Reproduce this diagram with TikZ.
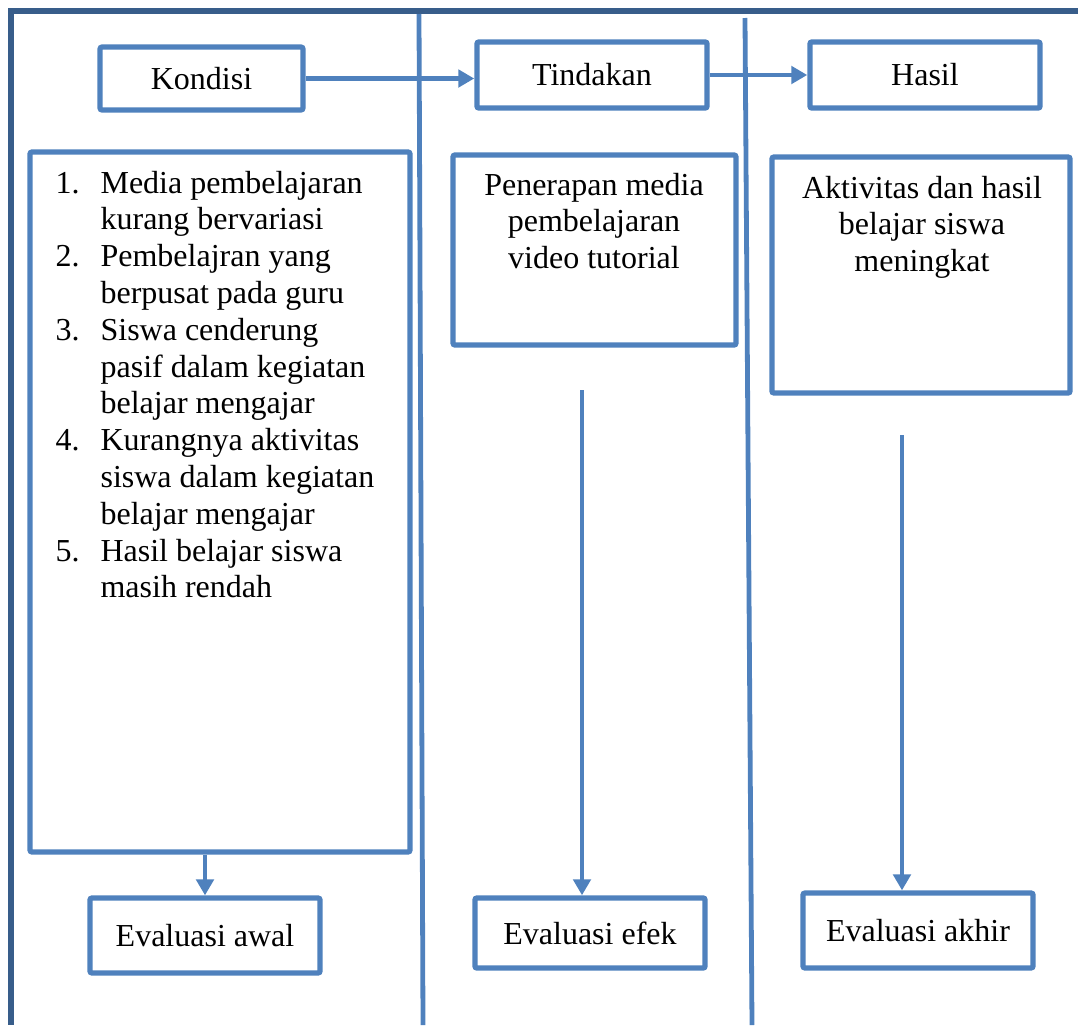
\documentclass[tikz,border=0pt]{standalone}
\usepackage{fontspec}
\setmainfont{Liberation Serif}
\usetikzlibrary{arrows.meta}
\definecolor{boxblue}{HTML}{4F81BD}
\definecolor{frameblue}{HTML}{385D8A}
\newcommand{\rows}[1]{\begin{tabular}[t]{@{}c@{}}#1\end{tabular}}

\begin{document}
\begin{tikzpicture}[x=0.375pt, y=-0.375pt,
		font=\fontsize{12}{13.8}\selectfont,
		box/.style={draw=boxblue, line width=2pt, rounded corners=0.8pt, inner sep=0pt},
		flow/.style={draw=boxblue, line width=1.8pt, -{Triangle[length=6pt,width=6.5pt]}},
		divider/.style={draw=boxblue, line width=1.8pt}]
		\useasboundingbox (0,0) rectangle (1078,1025);

		\draw [frameblue, line width=2pt] (1078,11) -- (11,11) -- (11,1025);
		\draw [divider] (419,14) -- (423,1025);
		\draw [divider] (745,18) -- (752,1025);

		\node [box, minimum width=76.1pt, minimum height=23.6pt] (kondisi) at (201.5,78.5) {Kondisi};
		\node [box, minimum width=86.3pt, minimum height=24.8pt] (tindakan) at (592,75) {Tindakan};
		\node [box, minimum width=86.3pt, minimum height=24.8pt] (hasil) at (925,75) {Hasil};

		\node [box, minimum width=142.5pt, minimum height=262.5pt] (masalah) at (220,502) {};
		\node [box, minimum width=106.1pt, minimum height=71.3pt] (media) at (594.5,250) {};
		\node [box, minimum width=111.8pt, minimum height=88.5pt] (aktivitas) at (921,275) {};

		\node [anchor=base west, inner sep=0pt] (daftar) at (55,193) {\begin{tabular}[t]{@{}p{16.9pt}@{}l@{}}
				1. & Media pembelajaran\\
				   & kurang bervariasi\\
				2. & Pembelajran yang\\
				   & berpusat pada guru\\
				3. & Siswa cenderung\\
				   & pasif dalam kegiatan\\
				   & belajar mengajar\\
				4. & Kurangnya aktivitas\\
				   & siswa dalam kegiatan\\
				   & belajar mengajar\\
				5. & Hasil belajar siswa\\
				   & masih rendah
			\end{tabular}};
		\node [anchor=base, inner sep=0pt] (mediatext) at (594,195) {\rows{Penerapan media\\ pembelajaran\\ video tutorial}};
		\node [anchor=base, inner sep=0pt] (aktivitastext) at (922,198) {\rows{Aktivitas dan hasil\\ belajar siswa\\ meningkat}};

		\node [box, minimum width=86.3pt, minimum height=28.1pt] (awal) at (205,935.5) {Evaluasi awal};
		\node [box, minimum width=86.3pt, minimum height=26.3pt] (efek) at (590,933) {Evaluasi efek};
		\node [box, minimum width=86.3pt, minimum height=28.1pt] (akhir) at (918,930.5) {Evaluasi akhir};

		\draw [flow] (kondisi.east) -- (kondisi.east -| tindakan.west);
		\draw [flow] (tindakan.east) -- (hasil.west);
		\draw [flow] (masalah.south -| awal.north) -- (awal.north);
		\coordinate (efekstart) at (582,390);
		\draw [flow] (efekstart) -- (efekstart |- efek.north);
		\coordinate (akhirstart) at (902,435);
		\draw [flow] (akhirstart) -- (akhirstart |- akhir.north);
	\end{tikzpicture}
\end{document}
